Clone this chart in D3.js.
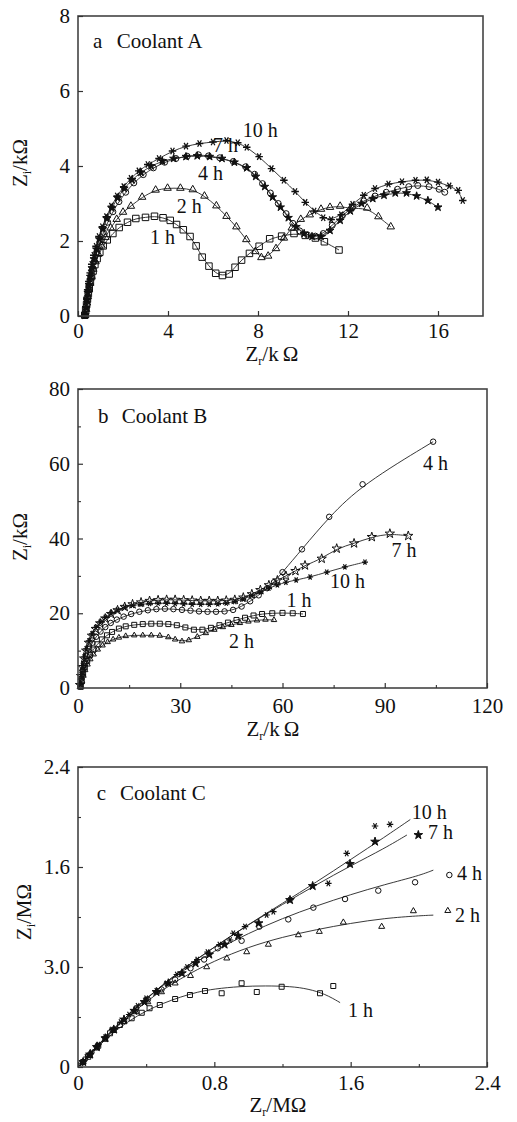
<!DOCTYPE html>
<html><head><meta charset="utf-8">
<script src="https://cdn.jsdelivr.net/npm/d3@7"></script>
<style>
html,body{margin:0;padding:0;background:#fff;}
svg{display:block;}
text{font-family:"Liberation Serif","Times New Roman",serif;fill:#111;}
</style>
</head><body>
<svg id="chart" width="517" height="1122"></svg>
<script>
// ---------------- Panel a : Coolant A (kΩ) ----------------
const aXTicks = [0, 4, 8, 12, 16];
const aYTicks = [0, 2, 4, 6, 8];
const a1h = [[0.3,0.02],[0.34,0.15],[0.38,0.3],[0.42,0.45],[0.46,0.6],[0.5,0.75],[0.55,0.9],[0.6,1.05],[0.67,1.2],[0.75,1.37],[0.85,1.53],[0.97,1.7],[1.12,1.87],[1.3,2.03],[1.55,2.2],[1.83,2.36],[2.2,2.5],[2.57,2.6],[3.0,2.63],[3.4,2.66],[3.78,2.62],[4.1,2.55],[4.38,2.44],[4.68,2.3],[4.98,2.12],[5.25,1.87],[5.52,1.57],[5.82,1.33],[6.12,1.14],[6.42,1.08],[6.72,1.12],[6.98,1.3],[7.27,1.49],[7.62,1.67],[8.05,1.86],[8.52,2.06],[9.05,2.13],[9.6,2.2],[10.1,2.15],[10.55,2.08],[10.95,1.98],[11.6,1.76]];
const a2h = [[0.32,0.02],[0.36,0.18],[0.4,0.35],[0.44,0.52],[0.49,0.7],[0.54,0.88],[0.6,1.06],[0.68,1.25],[0.78,1.45],[0.9,1.65],[1.05,1.87],[1.22,2.1],[1.45,2.35],[1.72,2.58],[2.0,2.77],[2.35,2.93],[2.85,3.17],[3.45,3.36],[3.98,3.41],[4.55,3.41],[5.1,3.37],[5.62,3.2],[6.15,2.94],[6.6,2.66],[7.04,2.38],[7.48,2.04],[7.88,1.72],[8.15,1.56],[8.45,1.6],[8.8,1.8],[9.15,2.08],[9.5,2.35],[9.9,2.58],[10.3,2.7],[10.8,2.85],[11.2,2.9],[11.65,2.93],[12.1,2.86],[12.85,2.88],[13.35,2.65],[13.9,2.38]];
const a4h = [[0.33,0.02],[0.37,0.2],[0.41,0.4],[0.45,0.6],[0.5,0.8],[0.56,1.0],[0.63,1.22],[0.72,1.45],[0.83,1.7],[0.97,1.97],[1.13,2.23],[1.32,2.5],[1.55,2.78],[1.82,3.05],[2.12,3.3],[2.48,3.55],[2.9,3.77],[3.35,3.95],[3.85,4.1],[4.35,4.2],[4.85,4.26],[5.35,4.3],[5.8,4.27],[6.3,4.22],[6.9,4.12],[7.45,3.98],[7.85,3.78],[8.2,3.53],[8.55,3.28],[8.9,3.0],[9.25,2.73],[9.55,2.47],[9.85,2.27],[10.2,2.16],[10.55,2.13],[10.9,2.2],[11.3,2.42],[11.75,2.68],[12.2,2.9],[12.7,3.07],[13.2,3.2],[13.7,3.3],[14.2,3.38],[14.7,3.45],[15.1,3.48],[15.6,3.45],[16.05,3.38],[16.3,3.3]];
const a7h = [[0.32,0.02],[0.36,0.22],[0.4,0.42],[0.44,0.62],[0.49,0.83],[0.55,1.05],[0.62,1.28],[0.71,1.52],[0.82,1.78],[0.95,2.05],[1.1,2.32],[1.28,2.6],[1.5,2.88],[1.76,3.15],[2.05,3.4],[2.4,3.63],[2.8,3.83],[3.25,4.0],[3.75,4.13],[4.25,4.2],[4.8,4.25],[5.3,4.27],[5.85,4.25],[6.4,4.2],[6.95,4.1],[7.5,3.95],[7.9,3.72],[8.3,3.45],[8.65,3.17],[9.0,2.9],[9.35,2.62],[9.7,2.38],[10.05,2.2],[10.4,2.12],[10.8,2.12],[11.2,2.28],[11.65,2.55],[12.1,2.8],[12.6,3.0],[13.1,3.13],[13.6,3.22],[14.1,3.28],[14.6,3.28],[15.05,3.2],[15.55,3.08],[16.0,2.9]];
const a10h = [[0.31,0.02],[0.35,0.25],[0.39,0.48],[0.43,0.7],[0.48,0.92],[0.54,1.15],[0.61,1.38],[0.7,1.62],[0.8,1.86],[0.93,2.12],[1.08,2.38],[1.26,2.65],[1.48,2.93],[1.74,3.2],[2.03,3.45],[2.35,3.67],[2.7,3.87],[3.1,4.04],[3.6,4.2],[4.2,4.4],[4.8,4.53],[5.4,4.6],[6.0,4.64],[6.6,4.68],[7.1,4.62],[7.5,4.5],[8.05,4.25],[8.6,3.93],[9.15,3.62],[9.65,3.32],[10.1,3.03],[10.5,2.8],[10.9,2.62],[11.25,2.57],[11.7,2.7],[12.2,2.98],[12.7,3.22],[13.2,3.4],[13.8,3.52],[14.4,3.58],[15.0,3.62],[15.5,3.63],[16.0,3.57],[16.5,3.47],[16.9,3.35],[17.1,3.08]];
const aLabels = ["1 h","2 h","4 h","7 h","10 h"];
const aLabelPos = [[3.2,1.92],[4.39,2.75],[5.33,3.63],[6.0,4.37],[7.32,4.78]];

// ---------------- Panel b : Coolant B (kΩ) ----------------
const bXTicks = [0, 30, 60, 90, 120];
const bYTicks = [0, 20, 40, 60, 80];
const bXMinor = [15, 45, 75, 105];
const bYMinor = [10, 30, 50, 70];
const b1h = [[0.8,0.3],[1.1,2],[1.5,3.8],[2.0,5.5],[2.7,7.2],[3.5,8.8],[4.5,10.3],[5.7,11.7],[7,13],[8.5,14.1],[10,15],[12,15.9],[14,16.5],[16.5,16.9],[19,17.1],[21.5,17.2],[24,17.2],[26.5,17.1],[29,16.8],[31.5,16.2],[34,15.6],[36.5,15.6],[39,16.1],[41.5,16.8],[44,17.5],[46.5,18.2],[49,18.8],[51.5,19.4],[54,19.8],[57,20],[60,20.1],[63,20],[66,19.8]];
const b2h = [[0.9,0.3],[1.2,1.8],[1.6,3.3],[2.1,4.8],[2.8,6.3],[3.6,7.7],[4.6,9.0],[5.8,10.3],[7.2,11.4],[8.7,12.3],[10.3,13.0],[12,13.5],[14,13.9],[16.5,14.1],[19,14.1],[21.5,14.1],[24,14.0],[26.5,13.6],[28.5,13.0],[30.5,12.5],[32.5,12.8],[35,13.7],[37.5,14.7],[40,15.6],[42.5,16.3],[45,16.9],[47.5,17.4],[50,17.8],[52.5,18.1],[55,18.3],[57.5,18.2]];
const b4h = [[0.7,0.5],[1.0,2.5],[1.4,4.6],[1.9,6.6],[2.5,8.5],[3.3,10.4],[4.2,12.1],[5.3,13.7],[6.6,15.1],[8,16.3],[9.6,17.4],[11.4,18.3],[13.4,19.1],[15.6,19.8],[18,20.4],[20.5,20.8],[23,21.1],[25.5,21.2],[28,21.1],[30.5,20.9],[33,20.7],[35.5,20.5],[38,20.4],[40.5,20.4],[43,20.5],[45.5,20.9],[48,21.8],[50.5,23.2],[53,24.8],[55.5,26.7],[57.5,28.3],[60,31],[65.7,37.1],[73.7,45.8],[83.5,54.5],[104.2,65.9]];
const b7h = [[0.6,0.8],[0.9,3.2],[1.3,5.6],[1.8,7.9],[2.4,10],[3.2,12.1],[4.1,14],[5.2,15.8],[6.5,17.3],[8,18.6],[9.7,19.8],[11.6,20.8],[13.7,21.7],[16,22.4],[18.5,22.9],[21,23.3],[23.5,23.5],[26,23.6],[28.5,23.6],[31,23.5],[33.5,23.4],[36,23.3],[38.5,23.3],[41,23.3],[43.5,23.4],[46,23.6],[48.5,24.2],[51,25.1],[53.5,26.2],[56,27.5],[58.5,28.8],[61,30],[63.8,31.3],[66.6,32.8],[71.5,34.6],[75.9,37.3],[81,38.7],[86.2,40.4],[91.5,41.3],[96.9,40.7]];
const b10h = [[0.6,1],[0.9,3.6],[1.3,6],[1.8,8.3],[2.4,10.5],[3.2,12.6],[4.1,14.5],[5.2,16.2],[6.5,17.6],[8,18.9],[9.7,20],[11.6,20.9],[13.7,21.6],[16,22.1],[18.5,22.4],[21,22.6],[23.5,22.7],[26,22.7],[28.5,22.6],[31,22.5],[33.5,22.4],[36,22.4],[38.5,22.4],[41,22.5],[43.5,22.7],[46,23.1],[48.5,23.8],[51,24.7],[53.5,25.7],[56,26.7],[58.5,27.6],[61,28.3],[64,28.9],[68.1,29.7],[73,31],[78.3,32.4],[84.2,33.7]];
const bLabels = ["4 h","7 h","10 h","1 h","2 h"];
const bLabelPos = [[101.2,58.3],[92.0,35.05],[73.9,26.75],[61.2,21.7],[44.3,10.7]];

// ---------------- Panel c : Coolant C (MΩ) ----------------
const cXTicks = [0, 0.8, 1.6, 2.4];
const cYTicks = [0, 0.8, 1.6, 2.4];
const cXTickLabels = ["0", "0.8", "1.6", "2.4"];
const cYTickLabels = ["0", "3.0", "1.6", "2.4"];
const cXMinor = [0.4, 1.2, 2.0];
const cYMinor = [0.4, 1.2, 2.0];
const c1h = [[0.03,0.04],[0.06,0.082],[0.119,0.17],[0.188,0.27],[0.246,0.336],[0.315,0.39],[0.374,0.434],[0.42,0.47],[0.48,0.496],[0.57,0.544],[0.657,0.576],[0.745,0.608],[0.843,0.59],[0.96,0.67],[1.049,0.6],[1.195,0.642],[1.42,0.59],[1.498,0.648]];
const c2h = [[0.03,0.04],[0.07,0.09],[0.11,0.15],[0.16,0.22],[0.21,0.29],[0.27,0.36],[0.34,0.44],[0.41,0.52],[0.49,0.6],[0.57,0.67],[0.66,0.73],[0.755,0.8],[0.873,0.87],[0.99,0.92],[1.117,0.98],[1.293,1.056],[1.416,1.083],[1.557,1.157],[1.782,1.123],[1.968,1.248],[2.17,1.25]];
const c4h = [[0.03,0.04],[0.07,0.1],[0.11,0.16],[0.16,0.23],[0.21,0.3],[0.27,0.37],[0.34,0.46],[0.41,0.54],[0.49,0.62],[0.57,0.7],[0.66,0.79],[0.74,0.86],[0.82,0.95],[0.96,1.01],[1.064,1.123],[1.234,1.181],[1.381,1.275],[1.567,1.344],[1.762,1.411],[1.978,1.478],[2.179,1.536]];
const c7h = [[0.03,0.04],[0.07,0.1],[0.11,0.16],[0.16,0.23],[0.21,0.3],[0.27,0.38],[0.33,0.45],[0.39,0.52],[0.46,0.6],[0.53,0.67],[0.61,0.75],[0.69,0.83],[0.77,0.9],[0.86,0.98],[0.94,1.05],[1.06,1.15],[1.244,1.336],[1.377,1.448],[1.596,1.624],[1.743,1.803],[1.997,1.856]];
const c10h = [[0.02,0.03],[0.05,0.08],[0.08,0.12],[0.12,0.18],[0.16,0.24],[0.2,0.3],[0.25,0.36],[0.3,0.42],[0.35,0.49],[0.4,0.55],[0.46,0.61],[0.52,0.67],[0.58,0.74],[0.64,0.8],[0.7,0.86],[0.76,0.92],[0.83,0.98],[0.892,1.016],[0.911,1.07],[0.98,1.123],[1.107,1.216],[1.146,1.243],[1.244,1.336],[1.469,1.469],[1.577,1.709],[1.743,1.928],[1.831,1.941]];
const c1hFit = [[0,0],[0.1,0.14],[0.2,0.27],[0.3,0.37],[0.4,0.45],[0.5,0.51],[0.6,0.56],[0.7,0.6],[0.8,0.625],[0.95,0.645],[1.1,0.65],[1.25,0.645],[1.35,0.625],[1.45,0.585],[1.538,0.515]];
const c2hFit = [[0,0],[0.2,0.29],[0.4,0.53],[0.6,0.71],[0.8,0.85],[1.0,0.96],[1.2,1.04],[1.4,1.1],[1.6,1.15],[1.8,1.19],[2.0,1.21],[2.085,1.215]];
const c4hFit = [[0,0],[0.2,0.3],[0.4,0.55],[0.6,0.76],[0.8,0.93],[1.0,1.07],[1.2,1.19],[1.4,1.29],[1.6,1.38],[1.8,1.46],[2.0,1.53],[2.085,1.575]];
const c7hFit = [[0,0],[0.2,0.3],[0.4,0.55],[0.6,0.77],[0.8,0.96],[1.0,1.14],[1.2,1.3],[1.4,1.46],[1.6,1.61],[1.8,1.75],[1.93,1.856]];
const c10hFit = [[0,0],[0.2,0.3],[0.4,0.55],[0.6,0.77],[0.8,0.96],[1.0,1.14],[1.2,1.31],[1.4,1.48],[1.6,1.66],[1.8,1.84],[1.95,1.98]];
const cLabels = ["10 h","7 h","4 h","2 h","1 h"];
const cLabelPos = [[1.958,1.985],[2.054,1.822],[2.224,1.5],[2.212,1.162],[1.585,0.402]];

// ---------------- drawing ----------------
const svg = d3.select("#chart");

function markerPath(type, s) {
  const h = s / 2;
  if (type === "square") return `M${-h},${-h}H${h}V${h}H${-h}Z`;
  if (type === "triangle") { const t = s * 0.866; return `M0,${-2*t/3}L${h},${t/3}L${-h},${t/3}Z`; }
  if (type === "circle") return d3.symbol(d3.symbolCircle, Math.PI * h * h)();
  if (type === "star") return d3.symbol(d3.symbolStar, s * s * 0.55)();
  if (type === "asterisk") {
    const r = h, a = r * 0.5, b = r * 0.866;
    return `M${-r},0H${r}M${-a},${-b}L${a},${b}M${a},${-b}L${-a},${b}`;
  }
  return "";
}

function drawPanel(cfg) {
  const g = svg.append("g");
  const x = d3.scaleLinear().domain(cfg.xDomain).range(cfg.xRange);
  const y = d3.scaleLinear().domain(cfg.yDomain).range(cfg.yRange);

  // fitted lines
  const line = d3.line().x(d => x(d[0])).y(d => y(d[1])).curve(d3.curveBasis);
  cfg.series.forEach(s => {
    g.append("path").attr("d", line(s.fit || s.data))
      .attr("fill", "none").attr("stroke", "#222").attr("stroke-width", 0.9);
  });
  // markers
  cfg.series.forEach(s => {
    const p = markerPath(s.type, s.size);
    g.append("g").selectAll("path").data(s.data).join("path")
      .attr("transform", d => `translate(${x(d[0])},${y(d[1])})`)
      .attr("d", p)
      .attr("fill", s.filled ? "#111" : "none")
      .attr("stroke", "#111")
      .attr("stroke-width", s.sw || 1);
  });

  // frame
  g.append("rect").attr("x", cfg.xRange[0]).attr("y", cfg.yRange[1])
    .attr("width", cfg.xRange[1] - cfg.xRange[0]).attr("height", cfg.yRange[0] - cfg.yRange[1])
    .attr("fill", "none").attr("stroke", "#444").attr("stroke-width", 1.6);

  // axes
  const xa = d3.axisBottom(x).tickValues(cfg.xTicks).tickSizeInner(-5).tickSizeOuter(0)
    .tickPadding(cfg.xPad).tickFormat((d, i) => cfg.xFmt[i]);
  const ya = d3.axisLeft(y).tickValues(cfg.yTicks).tickSizeInner(-5).tickSizeOuter(0)
    .tickPadding(8).tickFormat((d, i) => cfg.yFmt[i]);
  const gx = g.append("g").attr("transform", `translate(0,${cfg.yRange[0]})`).call(xa);
  const gy = g.append("g").attr("transform", `translate(${cfg.xRange[0]},0)`).call(ya);
  [gx, gy].forEach(ax => {
    ax.select(".domain").remove();
    ax.selectAll("line").attr("stroke", "#333").attr("stroke-width", 1.2);
    ax.selectAll("text").style("font-family", '"Liberation Serif",serif').style("font-size", "21px").attr("fill", "#111");
  });
  if (cfg.xMinor) {
    const gm = g.append("g").attr("transform", `translate(0,${cfg.yRange[0]})`)
      .call(d3.axisBottom(x).tickValues(cfg.xMinor).tickSizeInner(-3).tickSizeOuter(0).tickFormat(""));
    gm.select(".domain").remove();
    gm.selectAll("line").attr("stroke", "#333").attr("stroke-width", 1.1);
  }
  if (cfg.yMinor) {
    const gm = g.append("g").attr("transform", `translate(${cfg.xRange[0]},0)`)
      .call(d3.axisLeft(y).tickValues(cfg.yMinor).tickSizeInner(-3).tickSizeOuter(0).tickFormat(""));
    gm.select(".domain").remove();
    gm.selectAll("line").attr("stroke", "#333").attr("stroke-width", 1.1);
  }

  // series labels
  cfg.labels.forEach((t, i) => {
    g.append("text").attr("x", x(cfg.labelPos[i][0])).attr("y", y(cfg.labelPos[i][1]))
      .style("font-size", "20px").text(t);
  });
  // panel title
  g.append("text").attr("x", x(cfg.title.letterX)).attr("y", y(cfg.title.y))
    .style("font-size", "21px").text(cfg.title.letter);
  g.append("text").attr("x", x(cfg.title.nameX)).attr("y", y(cfg.title.y))
    .style("font-size", "21px").text(cfg.title.name);

  // axis titles
  const xt = g.append("text").attr("x", cfg.xTitlePos[0]).attr("y", cfg.xTitlePos[1])
    .attr("text-anchor", "middle").style("font-size", "21px");
  xt.append("tspan").text("Z");
  xt.append("tspan").attr("dy", 4).style("font-size", "12px").text("r");
  xt.append("tspan").attr("dy", -4).text(cfg.xUnit);
  const yt = g.append("text").attr("transform", `translate(${cfg.yTitlePos[0]},${cfg.yTitlePos[1]}) rotate(-90)`)
    .attr("text-anchor", "middle").style("font-size", "21px");
  yt.append("tspan").text("Z");
  yt.append("tspan").attr("dy", 4).style("font-size", "12px").text("i");
  yt.append("tspan").attr("dy", -4).text(cfg.yUnit);
}

drawPanel({
  xDomain: [0, 18], yDomain: [0, 8], xRange: [78, 483], yRange: [316, 16],
  xTicks: aXTicks, yTicks: aYTicks, xFmt: aXTicks.map(String), yFmt: aYTicks.map(String), xPad: 7,
  series: [
    {data: a1h, type: "square", size: 6.5},
    {data: a2h, type: "triangle", size: 7.5},
    {data: a4h, type: "circle", size: 6},
    {data: a7h, type: "star", size: 6, filled: true},
    {data: a10h, type: "asterisk", size: 7.5, sw: 1.3}
  ],
  labels: aLabels, labelPos: aLabelPos,
  title: {letter: "a", letterX: 0.67, name: "Coolant A", nameX: 1.72, y: 7.14},
  xTitlePos: [272, 361], yTitlePos: [27, 163], xUnit: "/k\u2009Ω", yUnit: "/kΩ"
});

drawPanel({
  xDomain: [0, 120], yDomain: [0, 80], xRange: [78, 487], yRange: [688, 389],
  xTicks: bXTicks, yTicks: bYTicks, xMinor: bXMinor, yMinor: bYMinor,
  xFmt: bXTicks.map(String), yFmt: bYTicks.map(String), xPad: 10,
  series: [
    {data: b1h, type: "square", size: 5},
    {data: b2h, type: "triangle", size: 5.5},
    {data: b4h, type: "circle", size: 5.5},
    {data: b7h, type: "star", size: 7},
    {data: b10h, type: "asterisk", size: 6, sw: 1.2}
  ],
  labels: bLabels, labelPos: bLabelPos,
  title: {letter: "b", letterX: 5.87, name: "Coolant B", nameX: 12.8, y: 71.0},
  xTitlePos: [273, 736], yTitlePos: [27, 537], xUnit: "/k\u2009Ω", yUnit: "/kΩ"
});

drawPanel({
  xDomain: [0, 2.4], yDomain: [0, 2.4], xRange: [78, 487], yRange: [1067, 767],
  xTicks: cXTicks, yTicks: cYTicks, xMinor: cXMinor, yMinor: cYMinor,
  xFmt: cXTickLabels, yFmt: cYTickLabels, xPad: 8,
  series: [
    {data: c1h, fit: c1hFit, type: "square", size: 5},
    {data: c2h, fit: c2hFit, type: "triangle", size: 6},
    {data: c4h, fit: c4hFit, type: "circle", size: 5.5},
    {data: c7h, fit: c7hFit, type: "star", size: 6.5, filled: true},
    {data: c10h, fit: c10hFit, type: "asterisk", size: 6.5, sw: 1.2}
  ],
  labels: cLabels, labelPos: cLabelPos,
  title: {letter: "c", letterX: 0.11, name: "Coolant C", nameX: 0.246, y: 2.136},
  xTitlePos: [278, 1112], yTitlePos: [31, 912], xUnit: "/MΩ", yUnit: "/MΩ"
});
</script>
</body></html>
